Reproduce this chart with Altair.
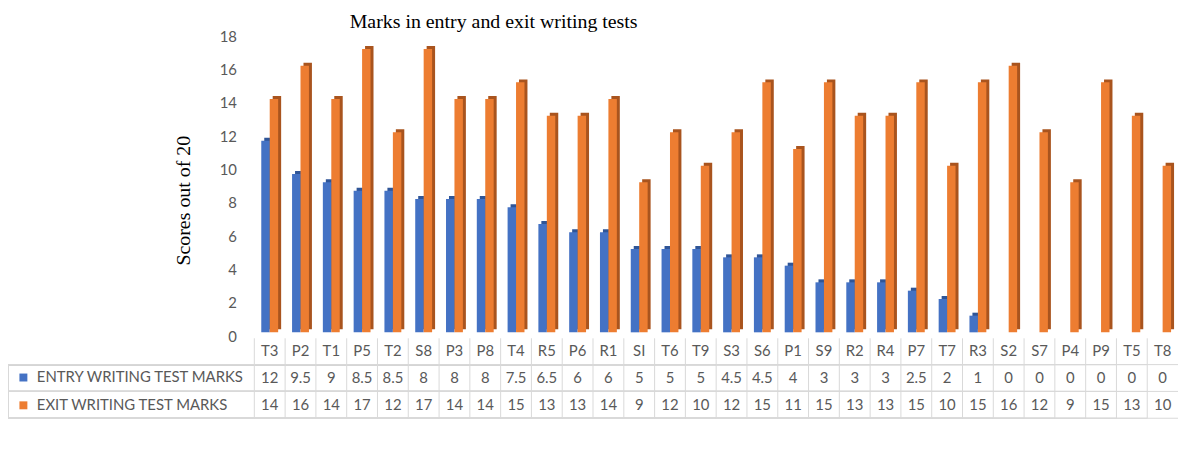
import altair as alt
import pandas as pd

students = ["T3", "P2", "T1", "P5", "T2", "S8", "P3", "P8", "T4", "R5", "P6", "R1", "SI", "T6", "T9",
            "S3", "S6", "P1", "S9", "R2", "R4", "P7", "T7", "R3", "S2", "S7", "P4", "P9", "T5", "T8"]
entry_marks = [11.5, 9.5, 9, 8.5, 8.5, 8, 8, 8, 7.5, 6.5, 6, 6, 5, 5, 5,
               4.5, 4.5, 4, 3, 3, 3, 2.5, 2, 1, 0, 0, 0, 0, 0, 0]
exit_marks = [14, 16, 14, 17, 12, 17, 14, 14, 15, 13, 13, 14, 9, 12, 10,
              12, 15, 11, 15, 13, 13, 15, 10, 15, 16, 12, 9, 15, 13, 10]
series_names = ["ENTRY WRITING TEST MARKS", "EXIT WRITING TEST MARKS"]
y_ticks = [0, 2, 4, 6, 8, 10, 12, 14, 16, 18]
chart_title = "Marks in entry and exit writing tests"
x_title = "Students"
y_title = "Scores out of 20"

BLUE, BLUE_DARK = "#4472C4", "#2F5597"
ORANGE, ORANGE_DARK = "#ED7D31", "#A9541E"
GRID = "#D9D9D9"
TXT = "#595959"
SANS = "Lato"
SERIF = "Liberation Serif"

W, H = 930, 302

df = pd.DataFrame({"student": students, "entry": entry_marks, "exit": exit_marks})

xaxis = alt.Axis(labels=False, ticks=False, domain=False, grid=False, title=x_title,
                 titleFont=SERIF, titleFontSize=20, titleFontWeight="normal",
                 titleColor="#000000", titleX=147, titleY=409, titleAlign="center",
                 titleBaseline="middle")
xs = alt.X("student:N", sort=students,
           scale=alt.Scale(paddingInner=0, paddingOuter=0), axis=xaxis)
yscale = alt.Scale(domain=[0, 18], nice=False)
yaxis = alt.Axis(values=y_ticks, domain=False, ticks=False, grid=False,
                 labelPadding=18, labelOffset=4, labelColor=TXT, labelFont=SANS,
                 labelFontSize=15, title=y_title, titleFont=SERIF, titleFontSize=20,
                 titleFontWeight="normal", titleColor="#000000", titleX=-71, titleY=169,
                 titleAngle=270, titleAlign="center", titleBaseline="middle")
legend = alt.Legend(title=None, orient="none", legendX=-240, legendY=340,
                    symbolType="square", symbolSize=64, symbolStrokeWidth=0,
                    labelFont=SANS, labelFontSize=15, labelColor=TXT, labelLimit=0,
                    labelOffset=6, rowPadding=12, direction="vertical")
cscale = alt.Scale(domain=series_names, range=[BLUE, ORANGE])

base = alt.Chart(df)


def bar(field, name, color, dx, shade=False):
    if shade:
        return base.mark_bar(size=8.5, color=color, xOffset=dx, yOffset=-3).encode(
            x=xs, y=alt.Y(f"{field}:Q", scale=yscale, axis=yaxis))
    return base.transform_calculate(series=f"'{name}'").mark_bar(
        size=8.5, xOffset=dx, opacity=1).encode(
        x=xs, y=alt.Y(f"{field}:Q", scale=yscale, axis=yaxis),
        color=alt.Color("series:N", scale=cscale, legend=legend))


layers = [
    bar("entry", series_names[0], BLUE_DARK, -4.25 + 3, shade=True),
    bar("entry", series_names[0], BLUE, -4.25),
    bar("exit", series_names[1], ORANGE_DARK, 4.25 + 3, shade=True),
    bar("exit", series_names[1], ORANGE, 4.25),
]

# table grid: horizontal lines (segments from the left edge to each column end)
for yy in [334.5, 361.5, 388.5]:
    layers.append(base.mark_rule(color=GRID).encode(
        x=alt.X("student:N", sort=students, bandPosition=1), x2=alt.value(-247.5),
        y=alt.value(yy)))
# vertical lines at column starts
layers.append(base.mark_rule(color=GRID).encode(
    x=alt.X("student:N", sort=students, bandPosition=0), y=alt.value(308), y2=alt.value(388.5)))
# left border of the legend cells
layers.append(base.transform_filter(alt.datum.student == students[0]).mark_rule(
    color=GRID, xOffset=-247.5).encode(
    x=alt.X("student:N", sort=students, bandPosition=0), y=alt.value(334.5), y2=alt.value(388.5)))

# table text
layers.append(base.mark_text(font=SANS, fontSize=15, color=TXT, baseline="middle").encode(
    x=xs, y=alt.value(321), text="student:N"))
layers.append(base.mark_text(font=SANS, fontSize=15, color=TXT, baseline="middle").encode(
    x=xs, y=alt.value(348), text=alt.Text("entry:Q", format=".2~r")))
layers.append(base.mark_text(font=SANS, fontSize=15, color=TXT, baseline="middle").encode(
    x=xs, y=alt.value(375), text=alt.Text("exit:Q", format=".2~r")))

chart = alt.layer(*layers).properties(
    width=W, height=H,
    title=alt.TitleParams(chart_title, font=SERIF, fontSize=20, fontWeight="normal",
                          color="#000000", anchor="start", frame="group", dx=96,
                          offset=0, dy=13, baseline="middle"),
    autosize=alt.AutoSizeParams(type="none"),
    padding={"left": 248, "top": 23, "right": 4, "bottom": 125},
).configure_view(stroke=None)

chart.save("out.html", embed_options={"renderer": "svg", "actions": False})
